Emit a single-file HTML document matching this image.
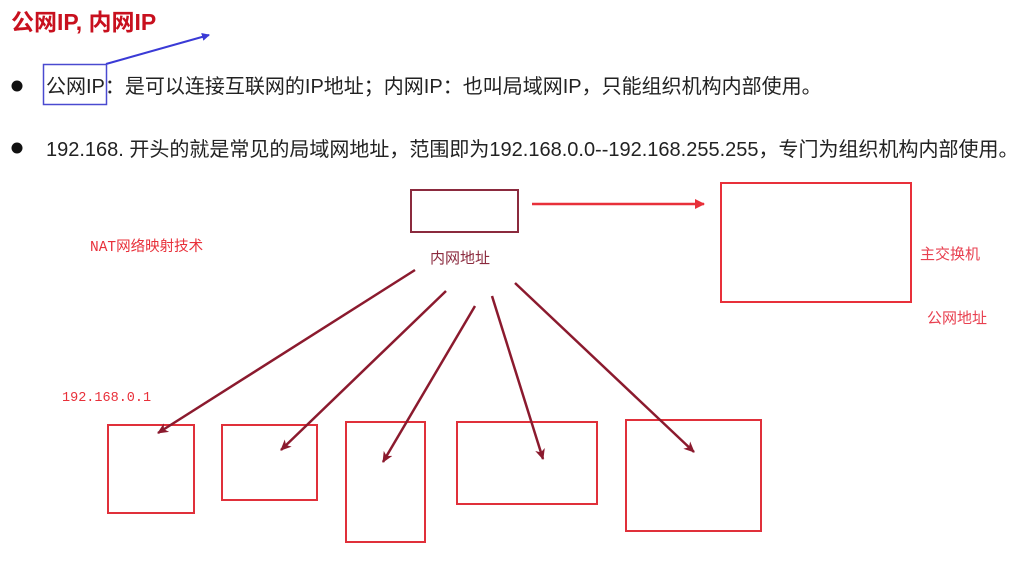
<!DOCTYPE html>
<html><head><meta charset="utf-8"><style>
html,body{margin:0;padding:0;background:#fff;}
svg{display:block}
text{font-family:"Liberation Sans","Noto Sans CJK SC",sans-serif}
</style></head><body>
<svg width="1024" height="576" viewBox="0 0 1024 576" xmlns="http://www.w3.org/2000/svg">
<defs>
<marker id="ab" markerWidth="8" markerHeight="8" refX="7" refY="4" orient="auto" markerUnits="userSpaceOnUse"><path d="M0,0 L8,4 L0,8 z" fill="#3a3ad6"/></marker>
<marker id="ar" markerWidth="10" markerHeight="10" refX="9" refY="5" orient="auto" markerUnits="userSpaceOnUse"><path d="M0,0 L10,5 L0,10 z" fill="#e8303a"/></marker>
<marker id="ad" markerWidth="12" markerHeight="12" refX="10" refY="6" orient="auto" markerUnits="userSpaceOnUse"><path d="M0,1 L11,6 L0,11 L3,6 z" fill="#8b1a2e"/></marker>
</defs>
<text x="11" y="30" font-size="23" font-weight="bold" fill="#c8101e">公网IP, 内网IP</text>
<line x1="106" y1="64" x2="209" y2="35" stroke="#3a3ad6" stroke-width="2" marker-end="url(#ab)"/>
<rect x="43.5" y="64.5" width="63" height="40" fill="none" stroke="#4a4ad0" stroke-width="1.5"/>
<circle cx="17" cy="86" r="5.5" fill="#111"/>
<text x="46" y="93" font-size="20" fill="#222">公网IP：是可以连接互联网的IP地址；内网IP：也叫局域网IP，只能组织机构内部使用。</text>
<circle cx="17" cy="148" r="5.5" fill="#111"/>
<text x="46" y="156" font-size="20" fill="#222">192.168. 开头的就是常见的局域网地址，范围即为192.168.0.0--192.168.255.255，专门为组织机构内部使用。</text>
<rect x="411" y="190" width="107" height="42" fill="none" stroke="#8b2a3e" stroke-width="2"/>
<line x1="532" y1="204" x2="704" y2="204" stroke="#e8303a" stroke-width="2.5" marker-end="url(#ar)"/>
<rect x="721" y="183" width="190" height="119" fill="none" stroke="#e8303a" stroke-width="2"/>
<text x="920" y="259" font-size="15" fill="#e84050">主交换机</text>
<text x="927" y="323" font-size="15" fill="#e84050">公网地址</text>
<text x="430" y="263" font-size="15" fill="#8b2a3e">内网地址</text>
<text x="90" y="251" font-size="14.5" fill="#e8303a" style="font-family:'Liberation Mono','Noto Sans CJK SC',monospace">NAT网络映射技术</text>
<text x="62" y="401" font-size="13.5" fill="#e8303a" style="font-family:'Liberation Mono',monospace">192.168.0.1</text>
<g fill="none" stroke="#e0303a" stroke-width="2">
<rect x="108" y="425" width="86" height="88"/>
<rect x="222" y="425" width="95" height="75"/>
<rect x="346" y="422" width="79" height="120"/>
<rect x="457" y="422" width="140" height="82"/>
<rect x="626" y="420" width="135" height="111"/>
</g>
<g stroke="#8b1a2e" stroke-width="2.5" marker-end="url(#ad)">
<line x1="415" y1="270" x2="158" y2="433"/>
<line x1="446" y1="291" x2="281" y2="450"/>
<line x1="475" y1="306" x2="383" y2="462"/>
<line x1="492" y1="296" x2="543" y2="459"/>
<line x1="515" y1="283" x2="694" y2="452"/>
</g>
</svg>
</body></html>
